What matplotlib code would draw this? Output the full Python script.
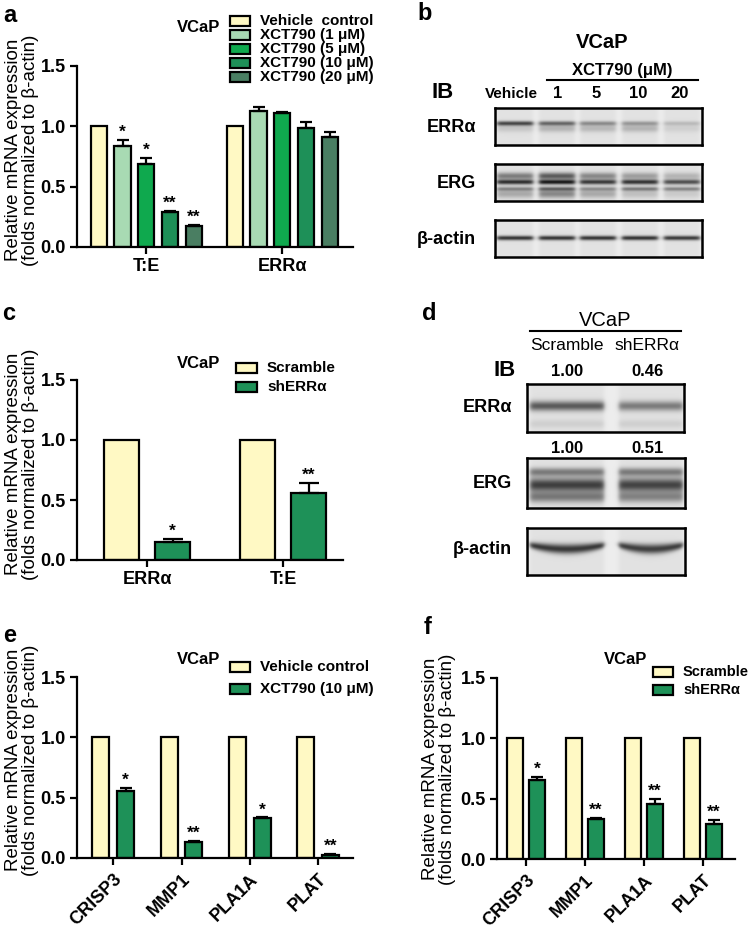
import numpy as np
import matplotlib
matplotlib.use('Agg')
import matplotlib.pyplot as plt
from matplotlib.patches import Rectangle

plt.rcParams['font.family'] = ['Liberation Sans', 'DejaVu Sans']

W, H = 750, 925

# ---- data ----
yellow = '#FFF9C4'
green = '#1E9158'

a_groups = ['T:E', 'ERRα']
a_labels = ['Vehicle  control', 'XCT790 (1 μM)', 'XCT790 (5 μM)', 'XCT790 (10 μM)', 'XCT790 (20 μM)']
a_colors = [yellow, '#A8DAB3', '#0FA94E', '#1E9058', '#4A7E62']
a_vals = [[1.00, 1.00], [0.84, 1.13], [0.69, 1.11], [0.29, 0.99], [0.17, 0.91]]
a_errs = [[0, 0], [0.05, 0.03], [0.045, 0.01], [0.011, 0.05], [0.01, 0.044]]
a_stars = [['', ''], ['*', ''], ['*', ''], ['**', ''], ['**', '']]

c_groups = ['ERRα', 'T:E']
c_labels = ['Scramble', 'shERRα']
c_vals = [[1.0, 1.0], [0.153, 0.556]]
c_errs = [[0, 0], [0.022, 0.083]]
c_stars = [['', ''], ['*', '**']]

e_groups = ['CRISP3', 'MMP1', 'PLA1A', 'PLAT']
e_labels = ['Vehicle control', 'XCT790 (10 μM)']
e_vals = [[1, 1, 1, 1], [0.552, 0.133, 0.331, 0.028]]
e_errs = [[0, 0, 0, 0], [0.025, 0.005, 0.005, 0.008]]
e_stars = [['', '', '', ''], ['*', '**', '*', '**']]

f_groups = ['CRISP3', 'MMP1', 'PLA1A', 'PLAT']
f_labels = ['Scramble', 'shERRα']
f_vals = [[1, 1, 1, 1], [0.652, 0.334, 0.456, 0.293]]
f_errs = [[0, 0, 0, 0], [0.028, 0.008, 0.041, 0.033]]
f_stars = [['', '', '', ''], ['*', '**', '**', '**']]

# western blot band darkness per lane
b_lanes = ['Vehicle', '1', '5', '10', '20']
b_erra = [0.70, 0.55, 0.38, 0.32, 0.17]
b_erra_smear = [0.12, 0.20, 0.18, 0.20, 0.08]
b_erg_up = [0.45, 0.60, 0.40, 0.30, 0.20]
b_erg = [0.80, 0.90, 0.75, 0.78, 0.65]
b_erg_low = [0.40, 0.55, 0.35, 0.45, 0.40]
b_erg_smear = [0.25, 0.40, 0.25, 0.15, 0.10]
b_actin = [0.78, 0.78, 0.78, 0.78, 0.75]

d_lanes = ['Scramble', 'shERRα']
d_erra_quant = ['1.00', '0.46']
d_erg_quant = ['1.00', '0.51']
d_erra = [0.60, 0.45]
d_erg_up = [0.45, 0.45]
d_erg = [0.72, 0.70]
d_erg_low = [0.45, 0.40]
d_actin = [0.75, 0.72]

fig = plt.figure(figsize=(7.5, 9.25), dpi=100)


def fx(x):
    return x / W


def fy(y):
    return 1 - y / H


def add_ax(l, t, r, b):
    return fig.add_axes([fx(l), fy(b), (r - l) / W, (b - t) / H])


def ftext(x, y, s, **kw):
    fig.text(fx(x), fy(y), s, **kw)


def bar_panel(box, xlim, groups, vals, errs, stars, colors, width, step, cap=4.5, rotate=False):
    ax = add_ax(*box)
    pos = np.arange(len(groups))
    n = len(vals)
    for i in range(n):
        x = pos + (i - (n - 1) / 2) * step
        v = np.array(vals[i], float)
        e = np.array(errs[i], float)
        ax.bar(x, v, width, color=colors[i], edgecolor='k', linewidth=1.6, zorder=2)
        m = e > 0
        if m.any():
            ax.errorbar(x[m], v[m], yerr=[np.zeros(m.sum()), e[m]], fmt='none',
                        ecolor='k', elinewidth=1.6, capsize=cap, capthick=1.6, zorder=3)
        for xi, vi, ei, s in zip(x, v, e, stars[i]):
            if s:
                ax.annotate(s, (xi, vi + ei), xytext=(0, 5.5), textcoords='offset points',
                            ha='center', va='center', fontsize=12.5, fontweight='bold')
    ax.set_xlim(xlim)
    ax.set_ylim(0, 1.5)
    ax.set_yticks([0, 0.5, 1.0, 1.5])
    ax.set_yticklabels(['0.0', '0.5', '1.0', '1.5'])
    ax.set_xticks(pos)
    for sp in ['top', 'right']:
        ax.spines[sp].set_visible(False)
    for sp in ['left', 'bottom']:
        ax.spines[sp].set_linewidth(1.6)
    ax.tick_params(width=1.6, length=5, labelsize=13, pad=3)
    if rotate:
        ax.set_xticklabels(groups, rotation=45, ha='right', rotation_mode='anchor')
        ax.tick_params(axis='x', pad=4)
    else:
        ax.set_xticklabels(groups)
    for t in ax.get_xticklabels() + ax.get_yticklabels():
        t.set_fontweight('bold')
    return ax


def draw_legend(xp, y0, dy, labels, colors, fontsize, pw=20, ph=10, gap=10):
    for i, (lab, c) in enumerate(zip(labels, colors)):
        y = y0 + i * dy
        fig.add_artist(Rectangle((fx(xp), fy(y + ph / 2)), pw / W, ph / H, facecolor=c,
                                 edgecolor='k', linewidth=1.6, transform=fig.transFigure))
        ftext(xp + pw + gap, y, lab, ha='left', va='center', fontsize=fontsize, fontweight='bold')


ylab = 'Relative mRNA expression\n(folds normalized to β-actin)'

# ---- panel a ----
bar_panel((77, 66, 353, 247), (-0.51, 1.52), a_groups, a_vals, a_errs, a_stars,
          a_colors, 0.12, 0.175, cap=4.2)
draw_legend(230, 21, 14, a_labels, a_colors, 11)
ftext(199, 28, 'VCaP', ha='center', va='center', fontsize=12, fontweight='bold')
ftext(22, 150, ylab, rotation=90, ha='center', va='center', fontsize=13.5, linespacing=1.05)
ftext(10, 15, 'a', ha='center', va='center', fontsize=17, fontweight='bold')

# ---- panel c ----
bar_panel((77, 380, 343, 560), (-0.515, 1.44), c_groups, c_vals, c_errs, c_stars,
          [yellow, green], 0.257, 0.375, cap=7)
draw_legend(236, 368, 19, c_labels, [yellow, green], 11, pw=21)
ftext(199, 363, 'VCaP', ha='center', va='center', fontsize=12, fontweight='bold')
ftext(22, 464, ylab, rotation=90, ha='center', va='center', fontsize=13.5, linespacing=1.05)
ftext(9, 313, 'c', ha='center', va='center', fontsize=17, fontweight='bold')

# ---- panel e ----
bar_panel((77, 677, 353, 858), (-0.53, 3.51), e_groups, e_vals, e_errs, e_stars,
          [yellow, green], 0.25, 0.36, cap=4.5, rotate=True)
draw_legend(230, 667, 22, e_labels, [yellow, green], 11)
ftext(199, 660, 'VCaP', ha='center', va='center', fontsize=12, fontweight='bold')
ftext(22, 760, ylab, rotation=90, ha='center', va='center', fontsize=13.5, linespacing=1.05)
ftext(10, 635, 'e', ha='center', va='center', fontsize=17, fontweight='bold')

# ---- panel f ----
bar_panel((497, 678, 735, 859), (-0.49, 3.54), f_groups, f_vals, f_errs, f_stars,
          [yellow, green], 0.28, 0.372, cap=4.5, rotate=True)
draw_legend(653, 672, 18, f_labels, [yellow, green], 10.5)
ftext(626, 660, 'VCaP', ha='center', va='center', fontsize=12, fontweight='bold')
ftext(439, 769, ylab, rotation=90, ha='center', va='center', fontsize=13.5, linespacing=1.05)
ftext(428, 627, 'f', ha='center', va='center', fontsize=17, fontweight='bold')


# ---- western blots ----
def blot(box, lanes, widths, bands, bg=0.93):
    l, t, r, b = box
    ax = add_ax(l, t, r, b)
    xs = np.linspace(l, r, int((r - l) * 3))
    ys = np.linspace(t, b, int((b - t) * 3))
    X, Y = np.meshgrid(xs, ys)
    keep = np.ones_like(X)
    for k, (cx, w) in enumerate(zip(lanes, widths)):
        hp = 0.5 * (np.tanh((X - (cx - w / 2)) / 2.5) - np.tanh((X - (cx + w / 2)) / 2.5))
        rel = np.clip((X - cx) / (w / 2), -1.3, 1.3)
        keep *= 1 - 0.05 * hp
        for cy, sig, darks, curve in bands:
            yc = cy - curve * rel ** 2
            s = sig * (1 - 0.35 * min(curve, 1) * rel ** 2)
            vp = np.exp(-0.5 * ((Y - yc) / s) ** 2)
            keep *= 1 - darks[k] * hp * vp
    img = bg * keep
    ax.imshow(img, cmap='gray', vmin=0, vmax=1, extent=(l, r, b, t), aspect='auto',
              interpolation='bilinear')
    ax.set_xlim(l, r)
    ax.set_ylim(b, t)
    ax.set_xticks([])
    ax.set_yticks([])
    for sp in ax.spines.values():
        sp.set_linewidth(1.8)
    return ax


# panel b
b_x = [515, 557, 598, 640, 682]
b_w = [36] * 5
blot((495, 108, 702, 145), b_x, b_w,
     [(124, 1.6, b_erra, 0), (129, 2.5, b_erra_smear, 0)])
blot((495, 164, 702, 201), b_x, b_w,
     [(176, 2.5, b_erg_up, 0), (182, 1.8, b_erg, 0), (189, 1.5, b_erg_low, 0),
      (194, 3.0, b_erg_smear, 0)])
blot((495, 220, 702, 257), b_x, b_w, [(238, 1.6, b_actin, 0)])

ftext(425, 13, 'b', ha='center', va='center', fontsize=17, fontweight='bold')
ftext(602, 42, 'VCaP', ha='center', va='center', fontsize=14.5, fontweight='bold')
ftext(622, 70, 'XCT790 (μM)', ha='center', va='center', fontsize=12, fontweight='bold')
fig.add_artist(plt.Line2D([fx(547), fx(698)], [fy(80), fy(80)], color='k', lw=1.5,
                          transform=fig.transFigure))
ftext(443, 93, 'IB', ha='center', va='center', fontsize=16, fontweight='bold')
b_lx = [511, 558, 596, 638, 680]
for x, lab in zip(b_lx, b_lanes):
    ftext(x, 94, lab, ha='center', va='center', fontsize=11 if len(lab) > 2 else 12,
          fontweight='bold')
for y, lab in zip([127, 183, 240], ['ERRα', 'ERG', 'β-actin']):
    ftext(476, y, lab, ha='right', va='center', fontsize=13, fontweight='bold')

# panel d
d_x = [567, 651]
d_w = [74, 64]
blot((527, 384, 684, 432), d_x, d_w,
     [(406, 3.5, d_erra, 0), (424, 3.0, [0.08, 0.08], 0)])
blot((527, 458, 685, 508), d_x, d_w,
     [(472, 3.0, d_erg_up, 0), (485, 5.0, d_erg, 0), (497, 4.0, d_erg_low, 0)])
blot((527, 528, 685, 575), d_x, d_w, [(549, 3.5, d_actin, 4)])

ftext(429, 313, 'd', ha='center', va='center', fontsize=17, fontweight='bold')
ftext(605, 320, 'VCaP', ha='center', va='center', fontsize=14.5)
fig.add_artist(plt.Line2D([fx(530), fx(681)], [fy(331), fy(331)], color='k', lw=1.5,
                          transform=fig.transFigure))
for x, lab, q1, q2 in zip([567, 647], d_lanes, d_erra_quant, d_erg_quant):
    ftext(x, 345, lab, ha='center', va='center', fontsize=12.5)
    ftext(x, 372, q1, ha='center', va='center', fontsize=12, fontweight='bold')
    ftext(x, 449, q2, ha='center', va='center', fontsize=12, fontweight='bold')
ftext(505, 370, 'IB', ha='center', va='center', fontsize=16, fontweight='bold')
for y, lab in zip([407, 484, 550], ['ERRα', 'ERG', 'β-actin']):
    ftext(512, y, lab, ha='right', va='center', fontsize=13, fontweight='bold')

fig.savefig('out.png', dpi=100)
